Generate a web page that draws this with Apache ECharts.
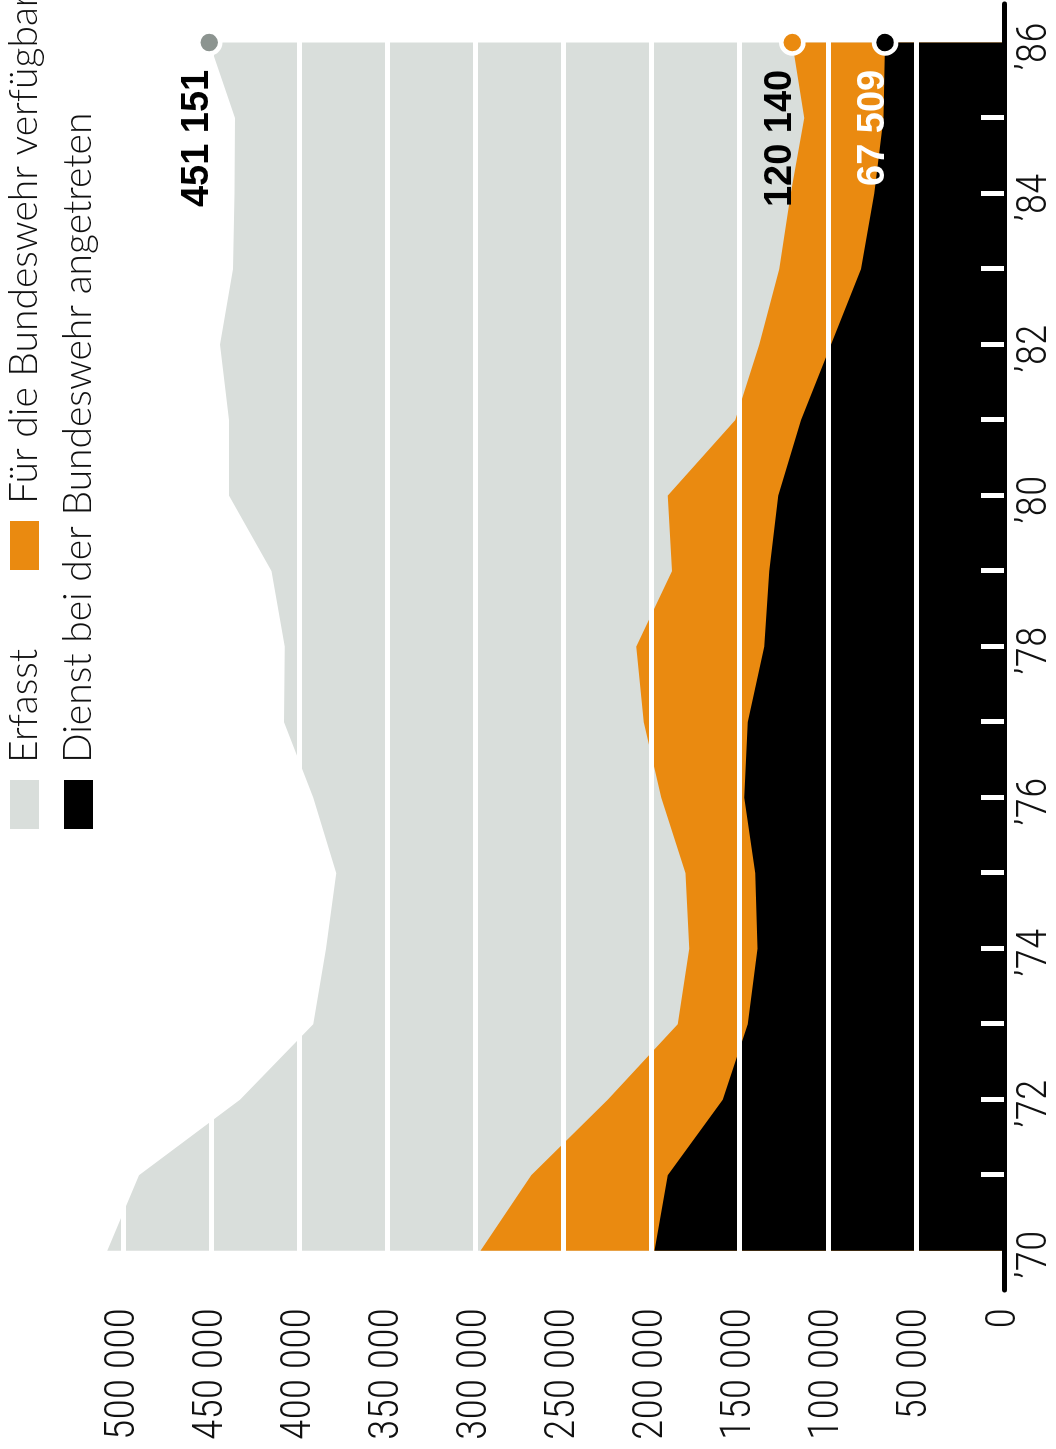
<!DOCTYPE html>
<html>
<head>
<meta charset="utf-8">
<script src="https://cdn.jsdelivr.net/npm/echarts@6/dist/echarts.min.js"></script>
<style>
  html, body { margin: 0; padding: 0; background: #fff; width: 1056px; height: 1449px; overflow: hidden; }
  /* chart is laid out landscape and turned a quarter to the left */
  #chart { position: absolute; left: 0; top: 0; width: 1449px; height: 1056px;
           transform-origin: 0 0; transform: translate(0, 1449px) rotate(-90deg); }
</style>
</head>
<body>
<div id="chart"></div>
<script>
// Wehrpflichtige 1970-1986
const years = [1970, 1971, 1972, 1973, 1974, 1975, 1976, 1977, 1978, 1979, 1980, 1981, 1982, 1983, 1984, 1985, 1986];
const erfasst = [509000, 491000, 433700, 392100, 384900, 379000, 392100, 408600, 408200, 415700, 439900, 439900, 445000, 437600, 436800, 436500, 451151];
const verfuegbar = [297200, 268300, 224900, 185200, 178600, 180800, 194600, 204500, 208800, 188400, 190900, 152600, 138900, 127600, 121000, 113400, 120140];
const angetreten = [198400, 190900, 159700, 145500, 139900, 141200, 147400, 145500, 136100, 133200, 128100, 115200, 98200, 81200, 73700, 68400, 67509];

const seriesNames = ['Erfasst', 'Für die Bundeswehr verfügbar', 'Dienst bei der Bundeswehr angetreten'];
const yearTicks = [1971, 1972, 1973, 1974, 1975, 1976, 1977, 1978, 1979, 1980, 1981, 1982, 1983, 1984, 1985];
const yearLabels = [1970, 1972, 1974, 1976, 1978, 1980, 1982, 1984, 1986];
const valueTicks = [0, 50000, 100000, 150000, 200000, 250000, 300000, 350000, 400000, 450000, 500000];

const GREY = '#d9dedb';
const ORANGE = '#ea8a10';
const BLACK = '#000000';
const NUM_FONT = "'Roboto Condensed', 'DejaVu Sans Condensed', sans-serif";

// 451151 -> "451 151"
function fmt(v) {
    return String(v).replace(/\B(?=(\d{3})+(?!\d))/g, ' ');
}

function pairs(values) {
    return years.map((y, i) => [y, values[i]]);
}

function areaSeries(name, values, color) {
    return {
        name: name,
        type: 'line',
        data: pairs(values),
        color: color,
        symbol: 'none',
        showSymbol: false,
        silent: true,
        lineStyle: { width: 0 },
        areaStyle: { color: color, opacity: 1 },
        z: 2
    };
}

function setOption(chart) {
    let last = years.length - 1;
    let legendBase = {
        icon: 'rect',
        itemWidth: 49,
        itemHeight: 29,
        padding: 0,
        selectedMode: false,
        textStyle: { fontSize: 39, fontFamily: 'Lato', fontWeight: 300, color: '#111', padding: [0, 0, 0, 12] }
    };
    let option = {
        animation: false,
        grid: { left: 159, right: 4, top: 35, bottom: 51 },
        legend: [
            Object.assign({}, legendBase, { data: [seriesNames[0]], left: 620, top: 5 }),
            Object.assign({}, legendBase, { data: [seriesNames[1]], left: 879, top: 5 }),
            Object.assign({}, legendBase, { data: [seriesNames[2]], left: 620, top: 59 })
        ],
        xAxis: {
            type: 'value',
            min: 1969.48,
            max: 1986.51,
            z: 4,
            axisLine: { show: true, onZero: false, lineStyle: { color: '#000', width: 5 } },
            axisTick: { show: true, inside: true, length: 23, customValues: yearTicks, lineStyle: { color: '#fff', width: 5 } },
            axisLabel: {
                customValues: yearLabels,
                formatter: (v) => '\u2019' + String(v).slice(2),
                fontSize: 42,
                fontFamily: NUM_FONT,
                fontWeight: 300,
                color: '#111',
                margin: 10,
                padding: [0, 8, 0, 0]
            },
            splitLine: { show: false }
        },
        yAxis: {
            type: 'value',
            min: 0,
            max: 550000,
            interval: 50000,
            z: 3,
            axisLine: { show: false },
            axisTick: { show: false },
            splitLine: { show: true, showMinLine: false, showMaxLine: false, lineStyle: { color: '#fff', width: 5 } },
            axisLabel: {
                customValues: valueTicks,
                formatter: (v) => fmt(v),
                fontSize: 42,
                fontFamily: NUM_FONT,
                fontWeight: 300,
                color: '#111',
                margin: 18
            }
        },
        series: [
            areaSeries(seriesNames[0], erfasst, GREY),
            areaSeries(seriesNames[1], verfuegbar, ORANGE),
            areaSeries(seriesNames[2], angetreten, BLACK),
            {
                // end points with values
                type: 'scatter',
                symbolSize: 22,
                z: 5,
                silent: true,
                itemStyle: { borderColor: '#fff', borderWidth: 4.5, opacity: 1 },
                label: {
                    show: true,
                    position: 'left',
                    distance: 14,
                    offset: [0, -12],
                    opacity: 1,
                    formatter: (p) => fmt(p.value[1]),
                    fontSize: 38,
                    fontWeight: 'bold',
                    fontFamily: "'Liberation Sans', sans-serif"
                },
                data: [
                    { value: [years[last], erfasst[last]], itemStyle: { color: '#8c9490' }, label: { color: '#000' } },
                    { value: [years[last], verfuegbar[last]], itemStyle: { color: ORANGE }, label: { color: '#000' } },
                    { value: [years[last], angetreten[last]], itemStyle: { color: BLACK }, label: { color: '#fff' } }
                ]
            }
        ]
    };
    chart.setOption(option);
}

let chart = echarts.init(document.getElementById('chart'), null, { width: 1449, height: 1056, renderer: 'canvas' });
setOption(chart);
</script>
</body>
</html>
